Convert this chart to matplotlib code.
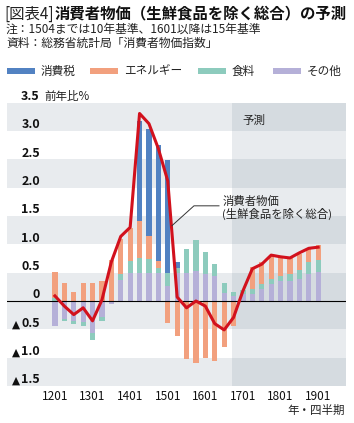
import matplotlib
matplotlib.use("Agg")
import matplotlib.pyplot as plt
import numpy as np

plt.rcParams['font.family'] = ['Noto Sans CJK JP', 'DejaVu Sans']

# quarters 1201 .. 1901
quarters = ["1201", "1202", "1203", "1204", "1301", "1302", "1303", "1304",
            "1401", "1402", "1403", "1404", "1501", "1502", "1503", "1504",
            "1601", "1602", "1603", "1604", "1701", "1702", "1703", "1704",
            "1801", "1802", "1803", "1804", "1901"]
tick_labels = ["1201", "1301", "1401", "1501", "1601", "1701", "1801", "1901"]

# contributions (percentage points)
tax = [0, 0, 0, 0, 0, 0, 0, 0,
       0, 1.76, 1.90, 2.04, 1.98, 0.09, 0, 0,
       0, 0, 0, 0, 0, 0, 0, 0,
       0, 0, 0, 0, 0]
energy = [0.46, 0.31, 0.16, 0.31, 0.31, 0.35, 0.72, 0.62,
          0.59, 0.65, 0.40, 0.12, -0.38, -0.62, -1.03, -1.10,
          -1.00, -1.05, -0.81, -0.44, 0.0, 0.39, 0.38, 0.41,
          0.32, 0.28, 0.28, 0.24, 0.26]
food = [0.06, -0.04, -0.05, -0.07, -0.12, -0.08, 0.0, 0.10,
        0.20, 0.26, 0.24, 0.09, 0.24, 0.09, 0.41, 0.54,
        0.40, 0.21, 0.17, 0.07, 0.08, 0.09, 0.09, 0.09,
        0.09, 0.12, 0.16, 0.21, 0.21]
other = [-0.44, -0.32, -0.35, -0.37, -0.56, -0.28, -0.06, 0.37,
         0.50, 0.50, 0.50, 0.50, 0.26, 0.50, 0.50, 0.53,
         0.47, 0.44, 0.14, 0.09, 0.12, 0.12, 0.21, 0.30,
         0.36, 0.36, 0.39, 0.48, 0.51]
core_cpi = [0.09, -0.09, -0.24, -0.12, -0.35, 0.02, 0.69, 1.14,
            1.30, 3.31, 3.13, 2.69, 2.12, 0.07, -0.12, 0.0,
            -0.09, -0.40, -0.51, -0.29, 0.18, 0.57, 0.65, 0.81,
            0.78, 0.76, 0.85, 0.93, 0.95]
y_ticks = [3.5, 3.0, 2.5, 2.0, 1.5, 1.0, 0.5, 0, -0.5, -1.0, -1.5]

series = [("その他", other, "#b5b0d8"),
          ("食料", food, "#8dcbbd"),
          ("エネルギー", energy, "#f2a07e"),
          ("消費税", tax, "#5282c2")]

fig = plt.figure(figsize=(3.54, 4.23), dpi=100)
ax = fig.add_axes([7 / 354, 1 - 386 / 423, 338.7 / 354, 283.3 / 423])

x = np.arange(len(quarters))
xmin, xmax = -5.1, 30.93
fstart = 18.8
ax.set_xlim(xmin, xmax)
ax.set_ylim(-1.5, 3.5)

# background bands
for k in range(-3, 7):
    lo, hi = k * 0.5, (k + 1) * 0.5
    m = k if k >= 0 else -k - 1
    light = (m % 2 == 0)
    ax.axhspan(lo, hi, color="#e8ebee" if light else "white", lw=0, zorder=0)
    ax.fill_between([fstart, xmax], lo, hi, color="#d5dbe0" if light else "#e8ebee",
                    lw=0, zorder=0.5)

# stacked bars
pos = np.zeros(len(x))
neg = np.zeros(len(x))
for name, vals, col in series:
    v = np.array(vals, dtype=float)
    p = np.where(v > 0, v, 0)
    n = np.where(v < 0, v, 0)
    ax.bar(x, p, bottom=pos, width=0.55, color=col, lw=0, zorder=2)
    ax.bar(x, n, bottom=neg, width=0.55, color=col, lw=0, zorder=2)
    pos += p
    neg += n

ax.axhline(0, color="black", lw=0.8, zorder=3)
ax.plot(x, core_cpi, color="#d2111d", lw=2.2, zorder=4, solid_joinstyle="round")

# y labels inside plot
for v in y_ticks:
    s = "0" if v == 0 else "%.1f" % abs(v)
    ax.text(-1.6, v + 0.11, s, ha="right", va="center", fontsize=9,
            fontweight="bold", color="#111111", zorder=5, clip_on=False)
    if v < 0:
        ax.text(-3.75, v + 0.035, "▲", ha="right", va="baseline", fontsize=7.6,
                family="DejaVu Sans", color="#111111", zorder=5)
ax.text(-1.15, 3.5 + 0.11, "前年比%", ha="left", va="center", fontsize=8.3,
        color="#222222", clip_on=False)

# x tick labels
for t in tick_labels:
    ax.text(quarters.index(t), -1.68, t, ha="center", va="center", fontsize=8.5,
            color="#111111", clip_on=False)

ax.text(19.9, 3.18, "予測", ha="left", va="center", fontsize=8.3, color="#222222")

# annotation for the line
ax.plot([12.45, 14.79, 17.45], [1.33, 1.68, 1.68], color="#333333", lw=0.7, zorder=5)
ax.text(17.8, 1.64, "消費者物価\n(生鮮食品を除く総合)", ha="left", va="center",
        fontsize=8.2, color="#222222", linespacing=1.15)

for s in ax.spines.values():
    s.set_visible(False)
ax.set_xticks([])
ax.set_yticks([])

# title and notes
t1 = fig.text(4 / 354, 1 - 14 / 423, "[図表4]", fontsize=11.1, ha="left", va="center",
              color="#222222")
fig.canvas.draw()
bb = t1.get_window_extent()
fig.text((bb.x1 + 1) / 354, 1 - 14 / 423, "消費者物価（生鮮食品を除く総合）の予測",
         fontsize=11.1, fontweight="bold", ha="left", va="center", color="#111111")
fig.text(6 / 354, 1 - 29 / 423, "注：1504までは10年基準、1601以降は15年基準",
         fontsize=8.5, ha="left", va="center", color="#222222")
fig.text(6 / 354, 1 - 43 / 423, "資料：総務省統計局「消費者物価指数」",
         fontsize=8.5, ha="left", va="center", color="#222222")

# legend
leg_x = [7, 90, 198, 273]
for (name, vals, col), lx in zip(reversed(series), leg_x):
    fig.patches.append(plt.Rectangle((lx / 354, 1 - 74 / 423), 28 / 354, 6 / 423,
                                     transform=fig.transFigure, color=col, lw=0))
    fig.text((lx + 34) / 354, 1 - 71 / 423, name, fontsize=8.4, ha="left", va="center",
             color="#222222")

fig.text(345 / 354, 1 - 410 / 423, "年・四半期", fontsize=8.3, ha="right", va="center",
         color="#222222")

fig.savefig("out.png", dpi=100)
